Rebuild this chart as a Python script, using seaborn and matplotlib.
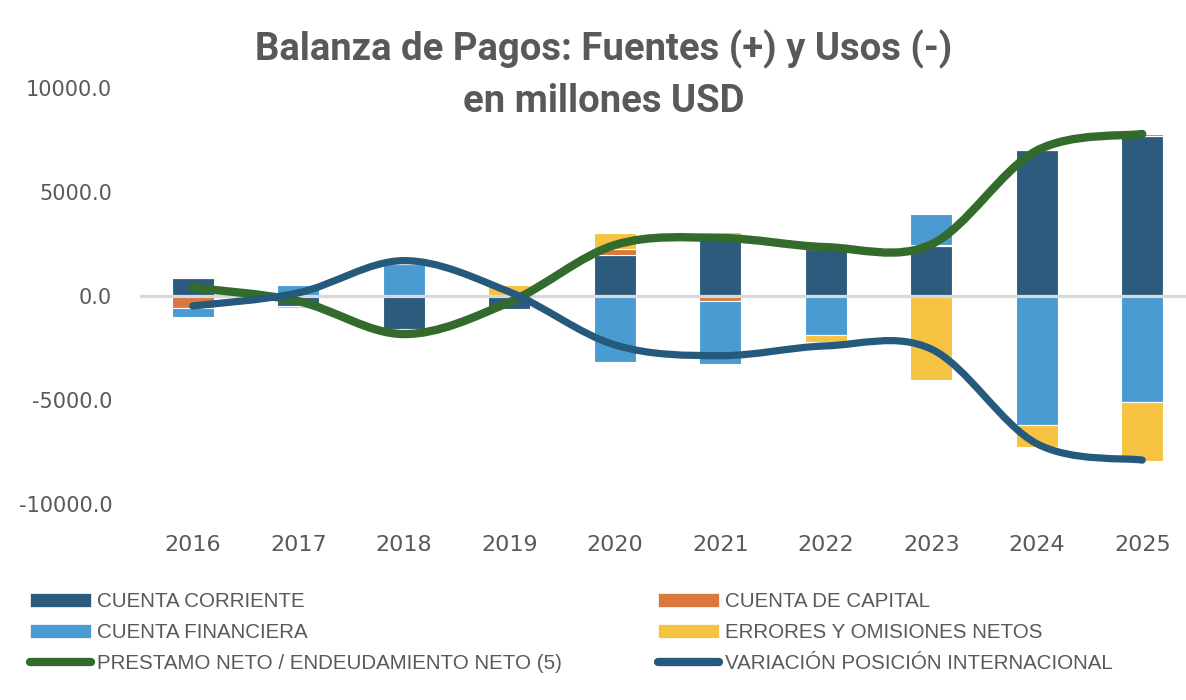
import numpy as np
import pandas as pd
import matplotlib
matplotlib.use("Agg")
import matplotlib.pyplot as plt
import seaborn as sns
from matplotlib.path import Path
from matplotlib.patches import PathPatch, Patch
from matplotlib.lines import Line2D

# ---------------- data ----------------
years = ["2016", "2017", "2018", "2019", "2020", "2021", "2022", "2023", "2024", "2025"]
cuenta_corriente = [870, -460, -1590, -620, 1970, 2950, 2250, 2400, 7000, 7700]
cuenta_capital = [-590, 0, 0, 0, 270, -250, 0, 60, 50, 110]
cuenta_financiera = [-440, 530, 1540, 0, -3180, -3000, -1860, 1475, -6190, -5090]
errores_omisiones = [30, -130, 0, 540, 770, 150, -370, -4020, -1060, -2840]
prestamo_neto = [400, -250, -1830, -300, 2450, 2790, 2350, 2480, 6990, 7790]
variacion_posicion = [-480, 150, 1700, 200, -2350, -2870, -2400, -2550, -7100, -7890]

bar_labels = ["CUENTA CORRIENTE", "CUENTA DE CAPITAL", "CUENTA FINANCIERA",
              "ERRORES Y OMISIONES NETOS"]
line_labels = ["PRESTAMO NETO / ENDEUDAMIENTO NETO (5)",
               "VARIACIÓN POSICIÓN INTERNACIONAL"]
yticks = [-10000, -5000, 0, 5000, 10000]

# ---------------- style ----------------
sns.set_theme(style="white")
plt.rcParams['font.family'] = ['DejaVu Sans']
TXT = "#595959"
c_cc, c_kc, c_cf, c_eo = "#2D5B7D", "#D9773E", "#4A9BD1", "#F5C242"
c_green, c_blue = "#336B2C", "#265A7C"

W, H = 1186, 700
fig = plt.figure(figsize=(W / 100, H / 100), dpi=100)
ax = fig.add_axes([140 / W, 196 / H, 1046 / W, 416 / H])

# stacked bars (positives stack up, negatives stack down)
series = [(cuenta_corriente, c_cc), (cuenta_capital, c_kc),
          (cuenta_financiera, c_cf), (errores_omisiones, c_eo)]
pos_base = np.zeros(len(years))
neg_base = np.zeros(len(years))
for vals, col in series:
    v = np.asarray(vals, dtype=float)
    bottom = np.where(v >= 0, pos_base, neg_base)
    df = pd.DataFrame({"year": years, "value": v})
    sns.barplot(data=df, x="year", y="value", bottom=bottom, color=col,
                saturation=1, width=0.4, errorbar=None, ax=ax,
                edgecolor="white", linewidth=0.8, zorder=2)
    pos_base = pos_base + np.where(v > 0, v, 0)
    neg_base = neg_base + np.where(v < 0, v, 0)

# zero line
ax.axhline(0, color="#D9D9D9", lw=2.3, zorder=3)


# smoothed lines (Excel-style cubic Bezier through the data points)
def smooth_path(yvals):
    pts = np.column_stack([np.arange(len(yvals)), np.asarray(yvals, float)])
    n = len(pts)
    verts = [pts[0]]
    codes = [Path.MOVETO]
    for i in range(n - 1):
        p_prev = pts[i - 1] if i > 0 else pts[i]
        p_next2 = pts[i + 2] if i + 2 < n else pts[i + 1]
        c1 = pts[i] + (pts[i + 1] - p_prev) / 6.0
        c2 = pts[i + 1] - (p_next2 - pts[i]) / 6.0
        verts += [c1, c2, pts[i + 1]]
        codes += [Path.CURVE4] * 3
    return Path(verts, codes)


for vals, col, lw in [(prestamo_neto, c_green, 6.0), (variacion_posicion, c_blue, 5.2)]:
    patch = PathPatch(smooth_path(vals), facecolor="none", edgecolor=col, lw=lw,
                      capstyle="round", joinstyle="round", zorder=4)
    ax.add_patch(patch)

# axes
ax.set_xlim(-0.5, -0.5 + 1046 / 105.5)
ax.set_ylim(-10000, 10000)
ax.set_yticks(yticks)
ax.set_yticklabels([f"{v:.1f}" for v in yticks])
ax.set_xlabel("")
ax.set_ylabel("")
for s in ax.spines.values():
    s.set_visible(False)
ax.grid(False)
ax.tick_params(axis="y", length=0, pad=20, labelsize=15, labelcolor=TXT)
ax.tick_params(axis="x", length=0, pad=22, labelsize=16, labelcolor=TXT)

# title
fig.text(604 / W, 1 - 49 / H, "Balanza de Pagos: Fuentes (+) y Usos (-)",
         ha="center", va="center", fontsize=27.5, fontweight="bold", color=TXT,
         family=["Roboto", "DejaVu Sans"])
fig.text(604 / W, 1 - 102 / H, "en millones USD",
         ha="center", va="center", fontsize=27.5, fontweight="bold", color=TXT,
         family=["Roboto", "DejaVu Sans"])

# legends
h1 = [Patch(facecolor=c_cc, edgecolor="white", lw=0.5),
      Patch(facecolor=c_cf, edgecolor="white", lw=0.5),
      Line2D([0], [0], color=c_green, lw=6, solid_capstyle="round")]
l1 = [bar_labels[0], bar_labels[2], line_labels[0]]
h2 = [Patch(facecolor=c_kc, edgecolor="white", lw=0.5),
      Patch(facecolor=c_eo, edgecolor="white", lw=0.5),
      Line2D([0], [0], color=c_blue, lw=6, solid_capstyle="round")]
l2 = [bar_labels[1], bar_labels[3], line_labels[1]]

leg_kw = dict(loc="upper left", frameon=False, borderpad=0, borderaxespad=0,
              handlelength=2.95, handleheight=0.7, handletextpad=0.33,
              labelspacing=0.58, labelcolor=TXT,
              prop={"family": "Liberation Sans", "size": 14.8})
fig.legend(h1, l1, bbox_to_anchor=(30 / W, 1 - 592 / H), **leg_kw)
fig.legend(h2, l2, bbox_to_anchor=(658 / W, 1 - 592 / H), **leg_kw)

fig.savefig("out.png", dpi=100)
